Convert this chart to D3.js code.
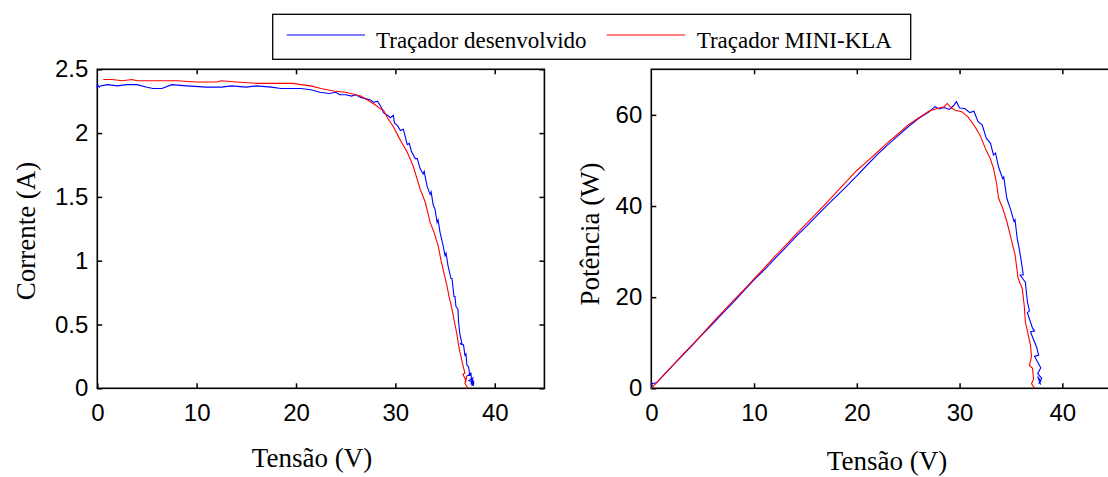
<!DOCTYPE html>
<html>
<head>
<meta charset="utf-8">
<script src="https://cdn.jsdelivr.net/npm/d3@7"></script>
<style>
  body { margin: 0; background: #fff; }
  svg { display: block; }
</style>
</head>
<body>
<script>
// I-V and P-V curves, [tensao, valor]
var ivDesenvolvido = [
  [0, 2.35], [0, 2.38], [0.2, 2.36], [0.3, 2.37], [1, 2.38], [2, 2.37], [3, 2.38], [4, 2.38], [5, 2.36],
  [5.6, 2.35], [6.5, 2.35], [7.5, 2.38], [9, 2.37], [11, 2.36], [12.5, 2.36], [13.5, 2.37], [15, 2.36],
  [16, 2.37], [17.5, 2.36], [18.5, 2.35], [19.5, 2.35], [20.5, 2.35], [21.5, 2.34], [22.4, 2.32],
  [23.3, 2.31], [24, 2.32], [24.4, 2.30], [25, 2.30], [25.6, 2.29], [26, 2.30], [26.5, 2.28], [27, 2.27],
  [27.5, 2.26], [27.8, 2.24], [28.2, 2.25], [28.6, 2.20], [28.8, 2.16], [29.2, 2.14], [29.5, 2.12],
  [29.8, 2.14], [29.9, 2.08], [30.2, 2.06], [30.5, 2.02], [30.8, 2.03], [31.0, 1.97], [31.2, 1.91],
  [31.4, 1.92], [31.6, 1.86], [32.0, 1.80], [32.2, 1.80], [32.5, 1.72], [32.8, 1.68], [32.9, 1.70],
  [33.2, 1.58], [33.5, 1.52], [33.6, 1.54], [33.8, 1.44], [34.0, 1.40], [34.2, 1.30], [34.3, 1.32],
  [34.5, 1.22], [34.8, 1.12], [35.0, 1.04], [35.1, 1.06], [35.3, 0.96], [35.6, 0.86], [35.7, 0.86],
  [35.9, 0.72], [36.0, 0.72], [36.1, 0.64], [36.3, 0.62], [36.36, 0.52], [36.5, 0.42], [36.7, 0.35],
  [36.5, 0.35], [36.86, 0.34], [37.0, 0.26], [37.1, 0.27], [37.2, 0.18], [37.36, 0.17], [37.5, 0.10],
  [37.3, 0.10], [37.6, 0.12], [37.7, 0.05], [37.4, 0.06], [37.8, 0.08], [37.6, 0.03], [37.9, 0.06],
  [37.7, 0.02], [37.9, 0.04], [37.6, 0.08], [37.9, 0.02]
];
var ivMiniKla = [
  [0.6, 2.42], [1.5, 2.42], [2.5, 2.41], [3.5, 2.42], [4, 2.41], [5, 2.41], [6, 2.41], [8, 2.41],
  [10, 2.40], [12, 2.40], [12.5, 2.41], [14, 2.40], [16, 2.39], [18, 2.39], [19.7, 2.39], [20.5, 2.38],
  [21.5, 2.37], [22.5, 2.35], [23.8, 2.33], [25, 2.32], [26, 2.30], [26.5, 2.29], [27.2, 2.26],
  [28, 2.22], [28.5, 2.19], [28.8, 2.18], [29.2, 2.12], [29.8, 2.05], [30.2, 1.99], [30.6, 1.93],
  [31.2, 1.85], [31.8, 1.74], [32.5, 1.56], [33.0, 1.46], [33.5, 1.30], [33.9, 1.22], [34.3, 1.12],
  [34.6, 1.00], [34.9, 0.90], [35.2, 0.80], [35.4, 0.72], [35.7, 0.62], [36.0, 0.50], [36.2, 0.42],
  [36.4, 0.32], [36.6, 0.25], [36.8, 0.18], [37.0, 0.12], [36.8, 0.11], [37.1, 0.06], [37.2, 0.10],
  [37.0, 0.04], [37.3, 0.0]
];
var pvDesenvolvido = [
  [0, 0.5], [0, 1.0], [0.5, 1.2], [1, 2.4], [2, 4.8], [3, 7.1], [4, 9.5], [5, 11.9], [6, 14.2], [7, 16.6],
  [8, 18.9], [9, 21.4], [10, 23.8], [11, 26.0], [12, 28.4], [13, 30.7], [14, 33.1], [15, 35.3], [16, 37.6],
  [17, 39.9], [18, 42.1], [19, 44.3], [20, 46.6], [21, 49.0], [22, 51.3], [23, 53.4], [24, 55.4],
  [25, 57.4], [26, 59.2], [27, 60.6], [27.6, 61.8], [28, 61.3], [28.5, 61.6], [29, 61.2], [29.4, 62.0],
  [29.7, 62.9], [30.0, 61.5], [30.5, 61.4], [31.0, 60.5], [31.4, 60.8], [31.8, 58.5], [32.2, 57.8],
  [32.6, 54.9], [33.0, 53.8], [33.3, 51.2], [33.5, 51.6], [33.8, 48.5], [34.2, 46.0], [34.3, 46.4],
  [34.6, 41.7], [35.0, 39.0], [35.3, 36.6], [35.4, 37.0], [35.6, 33.0], [35.8, 30.7], [36.0, 28.0],
  [36.2, 24.9], [35.9, 24.8], [36.4, 23.3], [36.6, 19.0], [36.8, 17.0], [36.6, 16.6], [37.1, 13.2],
  [37.3, 12.6], [36.9, 12.4], [37.5, 9.0], [37.7, 7.3], [37.3, 7.0], [37.9, 4.5], [37.6, 3.2],
  [38.0, 2.2], [37.7, 1.0], [37.9, 1.5], [37.6, 2.6], [37.9, 0.8]
];
var pvMiniKla = [
  [0, 0], [1, 2.4], [2, 4.8], [3, 7.3], [4, 9.6], [5, 12.0], [6, 14.5], [7, 16.9], [8, 19.3], [9, 21.6],
  [10, 24.0], [11, 26.4], [12, 28.9], [13, 31.2], [14, 33.6], [15, 35.9], [16, 38.2], [17, 40.6],
  [18, 43.0], [19, 45.4], [20, 47.8], [21, 49.8], [22, 51.8], [23, 53.9], [24, 55.8], [25, 57.8],
  [26, 59.3], [27, 60.8], [27.5, 61.2], [28, 61.5], [28.5, 61.8], [28.8, 62.5], [29.2, 61.5],
  [29.6, 61.0], [30.2, 60.7], [30.8, 59.6], [31.5, 57.4], [32.0, 55.5], [32.5, 52.7], [33.0, 50.3],
  [33.3, 48.3], [33.6, 45.0], [33.8, 41.7], [34.2, 39.5], [34.6, 36.6], [35.0, 33.0], [35.4, 29.3],
  [35.7, 24.1], [35.9, 23.0], [36.1, 21.9], [36.3, 18.0], [36.4, 14.6], [36.7, 11.5], [36.9, 9.5],
  [37.0, 7.0], [36.8, 5.0], [37.1, 4.4], [37.2, 2.0], [37.0, 1.0], [37.3, 0]
];

var xTicks = [0, 10, 20, 30, 40];
var yTicksI = [0, 0.5, 1, 1.5, 2, 2.5];
var yTicksP = [0, 20, 40, 60];
var legendNames = ["Traçador desenvolvido", "Traçador MINI-KLA"];
var seriesColors = ["#0000ff", "#ff0000"];

var width = 1108, height = 477;
var tickFont = "'Liberation Sans', Arial, sans-serif";
var serifFont = "'Liberation Serif', 'Times New Roman', serif";
var plain = function(d) { return String(d); };

var svg = d3.select("body").append("svg")
    .attr("width", width)
    .attr("height", height);

function drawPanel(opts) {
  var x = d3.scaleLinear().domain([0, 45]).range([opts.left, opts.right]);
  var y = d3.scaleLinear().domain(opts.yDomain).range([388.3, 69.3]);

  var g = svg.append("g");

  // ticks inside the box, MATLAB style
  g.append("g")
      .attr("transform", "translate(0,388.3)")
      .call(d3.axisBottom(x).tickValues(xTicks).tickSize(-5).tickPadding(16).tickFormat(plain))
      .call(function(a) { a.select(".domain").remove(); });
  g.append("g")
      .attr("transform", "translate(0,69.3)")
      .call(d3.axisTop(x).tickValues(xTicks.slice(1)).tickSize(-5).tickFormat(""))
      .call(function(a) { a.select(".domain").remove(); });
  g.append("g")
      .attr("transform", "translate(" + opts.left + ",0)")
      .call(d3.axisLeft(y).tickValues(opts.yTicks).tickSize(-5).tickPadding(9).tickFormat(plain))
      .call(function(a) { a.select(".domain").remove(); });
  g.append("g")
      .attr("transform", "translate(" + opts.right + ",0)")
      .call(d3.axisRight(y).tickValues(opts.yTicks).tickSize(-5).tickFormat(""))
      .call(function(a) { a.select(".domain").remove(); });

  g.selectAll(".tick line").attr("stroke", "#000").attr("stroke-width", 1.5);
  g.selectAll(".tick text")
      .attr("fill", "#000")
      .style("font-family", tickFont)
      .style("font-size", "24px");

  // box
  g.append("rect")
      .attr("x", opts.left)
      .attr("y", 69.3)
      .attr("width", opts.right - opts.left)
      .attr("height", 388.3 - 69.3)
      .style("fill", "none")
      .style("stroke", "#000")
      .style("stroke-width", 1.6);

  var line = d3.line()
      .x(function(d) { return x(d[0]); })
      .y(function(d) { return y(d[1]); });

  opts.series.forEach(function(s, i) {
    g.append("path")
        .datum(s)
        .attr("d", line)
        .style("fill", "none")
        .style("stroke", seriesColors[i])
        .style("stroke-width", 1.1);
  });

  g.append("text")
      .attr("x", opts.xLabelX)
      .attr("y", opts.xLabelY)
      .attr("text-anchor", "middle")
      .style("font-family", serifFont)
      .style("font-size", "27px")
      .text("Tensão (V)");

  g.append("text")
      .attr("transform", "translate(" + opts.yLabelX + "," + opts.yLabelY + ") rotate(-90)")
      .attr("text-anchor", "middle")
      .style("font-family", serifFont)
      .style("font-size", "27px")
      .text(opts.yLabel);
}

drawPanel({
  left: 97.3, right: 544.4,
  yDomain: [0, 2.5], yTicks: yTicksI,
  series: [ivDesenvolvido, ivMiniKla],
  xLabelX: 312, xLabelY: 467,
  yLabelX: 35, yLabelY: 231, yLabel: "Corrente (A)"
});

drawPanel({
  left: 651.3, right: 1113.7,
  yDomain: [0, 70], yTicks: yTicksP,
  series: [pvDesenvolvido, pvMiniKla],
  xLabelX: 887, xLabelY: 470,
  yLabelX: 599, yLabelY: 234, yLabel: "Potência (W)"
});

// legend
var legend = svg.append("g");
legend.append("rect")
    .attr("x", 272.7)
    .attr("y", 14.3)
    .attr("width", 638)
    .attr("height", 45)
    .style("fill", "#fff")
    .style("stroke", "#000")
    .style("stroke-width", 1.3);

var legendPos = [{x1: 286.7, x2: 365, tx: 376}, {x1: 606.7, x2: 685, tx: 696.7}];
legendNames.forEach(function(name, i) {
  legend.append("line")
      .attr("x1", legendPos[i].x1)
      .attr("x2", legendPos[i].x2)
      .attr("y1", 35)
      .attr("y2", 35)
      .style("stroke", seriesColors[i])
      .style("stroke-width", 1.1);
  legend.append("text")
      .attr("x", legendPos[i].tx)
      .attr("y", 47.7)
      .style("font-family", serifFont)
      .style("font-size", "23px")
      .text(name);
});
</script>
</body>
</html>
